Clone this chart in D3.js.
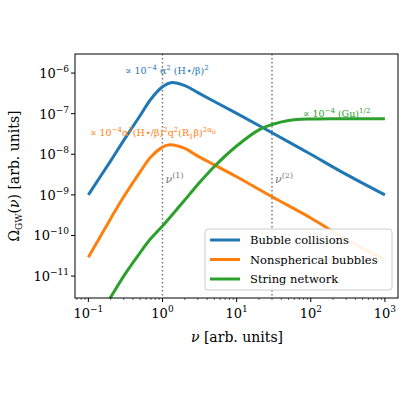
<!DOCTYPE html>
<html><head><meta charset="utf-8">
<script src="https://cdn.jsdelivr.net/npm/d3@7"></script>
<style>body{margin:0;background:#fff}text{font-family:"DejaVu Serif",serif}</style>
</head><body><svg id="chart" width="400" height="400"></svg>
<script>
var nuBlue   = [0.1,0.2,0.3,0.5,0.7,1,1.3,2,3,5,10,30,100,300,1000];
var omegaBlue= [1e-9,6.9e-9,2.2e-8,9e-8,2.3e-7,4.6e-7,5.8e-7,4.9e-7,3.3e-7,2e-7,1.02e-7,3.4e-8,1e-8,3.2e-9,1e-9];
var nuOrange = [0.1,0.2,0.3,0.5,0.7,1,1.2,2,3,5,10,30,100,300,1000];
var omegaOrange=[2.9e-11,2.6e-10,9e-10,3.7e-9,8.7e-9,1.5e-8,1.7e-8,1.4e-8,9e-9,5.5e-9,2.8e-9,9e-10,2.7e-10,8e-11,2.5e-11];
var nuGreen  = [0.1,0.2,0.3,0.5,0.7,1,2,3,5,10,20,30,50,100,300,1000];
var omegaGreen=[4e-13,3e-12,1e-11,3.8e-11,8.5e-11,1.7e-10,7.5e-10,1.8e-9,5e-9,1.6e-8,4e-8,5.4e-8,6.8e-8,7.4e-8,7.5e-8,7.5e-8];
var seriesNames = ["Bubble collisions","Nonspherical bubbles","String network"];
var colors = ["#1f77b4","#ff7f0e","#2ca02c"];
var markers = [1,30];
var xTicks = [-1,0,1,2,3];
var yTicks = [-11,-10,-9,-8,-7,-6];

var svg = d3.select("#chart");
var L=75,R=399,T=54,B=298;
var x = d3.scaleLog().domain([Math.pow(10,-1.18),Math.pow(10,3.19)]).range([L,R]);
var y = d3.scaleLog().domain([Math.pow(10,-11.54),Math.pow(10,-5.53)]).range([B,T]);

svg.append("clipPath").attr("id","clip").append("rect")
   .attr("x",L).attr("y",T).attr("width",R-L).attr("height",B-T);
var plot = svg.append("g").attr("clip-path","url(#clip)");

markers.forEach(function(m){
  plot.append("line").attr("x1",x(m)).attr("x2",x(m)).attr("y1",T).attr("y2",B)
      .attr("stroke","#777").attr("stroke-width",1.5).attr("stroke-dasharray","1.5,2.5");
});

var line = d3.line().x(d=>x(d[0])).y(d=>y(d[1])).curve(d3.curveCatmullRom.alpha(0.5));
var sets = [[nuBlue,omegaBlue],[nuOrange,omegaOrange],[nuGreen,omegaGreen]];
sets.forEach(function(s,i){
  plot.append("path").datum(d3.zip(s[0],s[1])).attr("d",line)
      .attr("fill","none").attr("stroke",colors[i]).attr("stroke-width",3);
});

function sup(sel, base, exp){
  sel.append("tspan").text(base);
  sel.append("tspan").attr("dy",-6).attr("font-size",9).text(exp);
}
xTicks.forEach(function(e){
  var v=Math.pow(10,e);
  svg.append("line").attr("x1",x(v)).attr("x2",x(v)).attr("y1",B).attr("y2",B+4).attr("stroke","#000");
  var t=svg.append("text").attr("x",x(v)).attr("y",B+20).attr("text-anchor","middle").attr("font-size",13);
  sup(t,"10",e<0?"\u2212"+(-e):e);
  for(var k=2;k<10;k++){var mv=k*v; if(mv<x.domain()[1]) svg.append("line").attr("x1",x(mv)).attr("x2",x(mv)).attr("y1",B).attr("y2",B+2).attr("stroke","#000").attr("stroke-width",0.6);}
  if(e==-1) for(var j=7;j<10;j++){var mv2=j*v/10; if(mv2>x.domain()[0]) svg.append("line").attr("x1",x(mv2)).attr("x2",x(mv2)).attr("y1",B).attr("y2",B+2).attr("stroke","#000").attr("stroke-width",0.6);}
});
yTicks.forEach(function(e){
  var v=Math.pow(10,e);
  svg.append("line").attr("x1",L-4).attr("x2",L).attr("y1",y(v)).attr("y2",y(v)).attr("stroke","#000");
  var t=svg.append("text").attr("x",L-6).attr("y",y(v)+5).attr("text-anchor","end").attr("font-size",13);
  sup(t,"10","\u2212"+(-e));
});
svg.append("rect").attr("x",L).attr("y",T).attr("width",R-L-1).attr("height",B-T)
   .attr("fill","none").attr("stroke","#000").attr("stroke-width",1);

var xl=svg.append("text").attr("x",(L+R)/2).attr("y",342).attr("text-anchor","middle").attr("font-size",14);
xl.append("tspan").attr("font-style","italic").text("\u03BD");
xl.append("tspan").text(" [arb. units]");
var yl=svg.append("text").attr("transform","translate(19,"+((T+B)/2)+") rotate(-90)").attr("text-anchor","middle").attr("font-size",14);
yl.append("tspan").text("\u03A9");
yl.append("tspan").attr("dy",3).attr("font-size",9).text("GW");
yl.append("tspan").attr("dy",-3).text("(");
yl.append("tspan").attr("font-style","italic").text("\u03BD");
yl.append("tspan").text(") [arb. units]");

function note(xp,yp,color,parts){
  var t=svg.append("text").attr("x",xp).attr("y",yp).attr("fill",color).attr("font-size",9.5);
  parts.forEach(function(p){
    var s=t.append("tspan").text(p[0]);
    if(p[1]) s.attr("dy",p[1]);
    if(p[2]) s.attr("font-size",p[2]);
  });
}
note(125,74,colors[0],[["\u221D 10"],["\u22124",-4,7],[" \u03B1",4],["2",-4,7],[" (H\u22C6/\u03B2)",4],["2",-4,7]]);
note(90,136,colors[1],[["\u221D 10"],["\u22124",-4,7],["\u03B1",4],["2",-4,7],["(H\u22C6/\u03B2)",4],["2",-4,7],["q",4],["2",-4,7],["(R",4],["1",3,7],["\u03B2)",-3],["2\u03B1",-4,7],["0",2,6]]);
note(303,117,colors[2],[["\u221D 10"],["\u22124",-4,7],[" (G\u03BC)",4],["1/2",-4,7]]);
[[1,"1"],[30,"2"]].forEach(function(m){
  var t=svg.append("text").attr("x",x(m[0])+3).attr("y",183).attr("fill","#777").attr("font-size",11);
  t.append("tspan").attr("font-style","italic").text("\u03BD");
  t.append("tspan").attr("dy",-5).attr("font-size",8).text("("+m[1]+")");
});

var lg=svg.append("g");
lg.append("rect").attr("x",205).attr("y",229).attr("width",187).attr("height",61).attr("rx",3)
  .attr("fill","#fff").attr("fill-opacity",0.9).attr("stroke","#ccc");
seriesNames.forEach(function(n,i){
  var yy=240+i*19.5;
  lg.append("line").attr("x1",210).attr("x2",240).attr("y1",yy).attr("y2",yy).attr("stroke",colors[i]).attr("stroke-width",3);
  lg.append("text").attr("x",250).attr("y",yy+4).attr("font-size",11.5).text(n);
});
</script></body></html>
